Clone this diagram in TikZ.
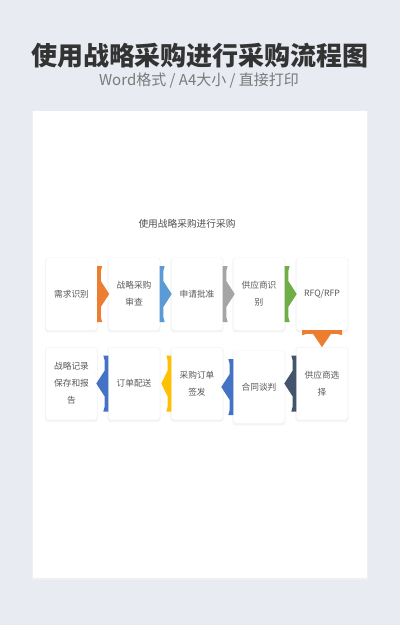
\documentclass[tikz,border=0pt]{standalone}
\usepackage{fontspec}
\setmainfont{Noto Sans CJK SC}
\usetikzlibrary{shadows}
\definecolor{bgc}{HTML}{E8EBF2}
\definecolor{titc}{HTML}{333333}
\definecolor{subc}{HTML}{7A7A7A}
\definecolor{txtc}{HTML}{595959}
\definecolor{cOrange}{HTML}{ED7D31}
\definecolor{cBlueA}{HTML}{5B9BD5}
\definecolor{cGray}{HTML}{A5A5A5}
\definecolor{cGreen}{HTML}{70AD47}
\definecolor{cNavy}{HTML}{44546A}
\definecolor{cBlueB}{HTML}{4472C4}
\definecolor{cYellow}{HTML}{FFC000}
\tikzset{
  card/.style={rectangle, rounded corners=3pt, fill=white, minimum width=51pt, minimum height=72pt,
    text width=44pt, align=center, inner sep=0pt, text=txtc,
    font=\fontsize{8.7}{17}\selectfont,
    drop shadow={shadow xshift=0pt, shadow yshift=-1pt, opacity=0.045, fill=black, shadow scale=1.04}},
  pics/conn/.style n args={3}{code={
    \fill[pic actions] (0,-#1) -- (5,-#1) .. controls (3.6,-#1+2) .. (3.6,-#1+5) -- (3.6,-#3) -- (#2,0)
      -- (3.6,#3) -- (3.6,#1-5) .. controls (3.6,#1-2) .. (5,#1) -- (0,#1) -- cycle;
  }}
}
\begin{document}
\begin{tikzpicture}[x=1pt,y=-1pt]
\useasboundingbox (0,0) rectangle (400,625);
\fill[bgc] (0,0) rectangle (400,625);
% page
\fill[black!6] (32,110.5) rectangle (368,579.5);
\fill[white] (33,111) rectangle (367,578);
% titles
\node[text=titc, font=\fontsize{26}{30}\selectfont\bfseries] (title) at (200,56) {使用战略采购进行采购流程图};
\node[text=subc, font=\fontsize{15}{18}\selectfont] (sub) at (199,81) {Word格式 / A4大小 / 直接打印};
\node[text=txtc!90!black, font=\fontsize{9.7}{12}\selectfont] (inner) at (187,224) {使用战略采购进行采购};
% row 1
\node[card] (a1) at (71.5,294) {需求识别};
\node[card] (a2) at (134,294) {战略采购\\审查};
\node[card] (a3) at (197,294) {申请批准};
\node[card] (a4) at (259,294) {供应商识\\别};
\node[card] (a5) at (322,294) {RFQ/RFP};
% row 2
\node[card] (b1) at (71.5,383.5) {战略记录\\保存和报\\告};
\node[card] (b2) at (134,383.5) {订单配送};
\node[card] (b3) at (197,383.5) {采购订单\\签发};
\node[card] (b4) at (259,387) {合同谈判};
\node[card] (b5) at (322,383.5) {供应商选\\择};
% connectors row 1
\pic[fill=cOrange] at (a1.east) {conn={28}{12}{13}};
\pic[fill=cBlueA] at (a2.east) {conn={28}{12}{13}};
\pic[fill=cGray] at (a3.east) {conn={28}{12}{13}};
\pic[fill=cGreen] at (a4.east) {conn={28}{12}{13}};
% down
\pic[fill=cOrange, rotate=-90] at (a5.south) {conn={20}{17}{9}};
% connectors row 2
\pic[fill=cNavy, xscale=-1] at (b5.west) {conn={28}{12}{13}};
\pic[fill=cBlueB, xscale=-1] at (b4.west) {conn={28}{12}{13}};
\pic[fill=cYellow, xscale=-1] at (b3.west) {conn={28}{10}{13}};
\pic[fill=cBlueB, xscale=-1] at (b2.west) {conn={28}{12}{13}};
\end{tikzpicture}
\end{document}
